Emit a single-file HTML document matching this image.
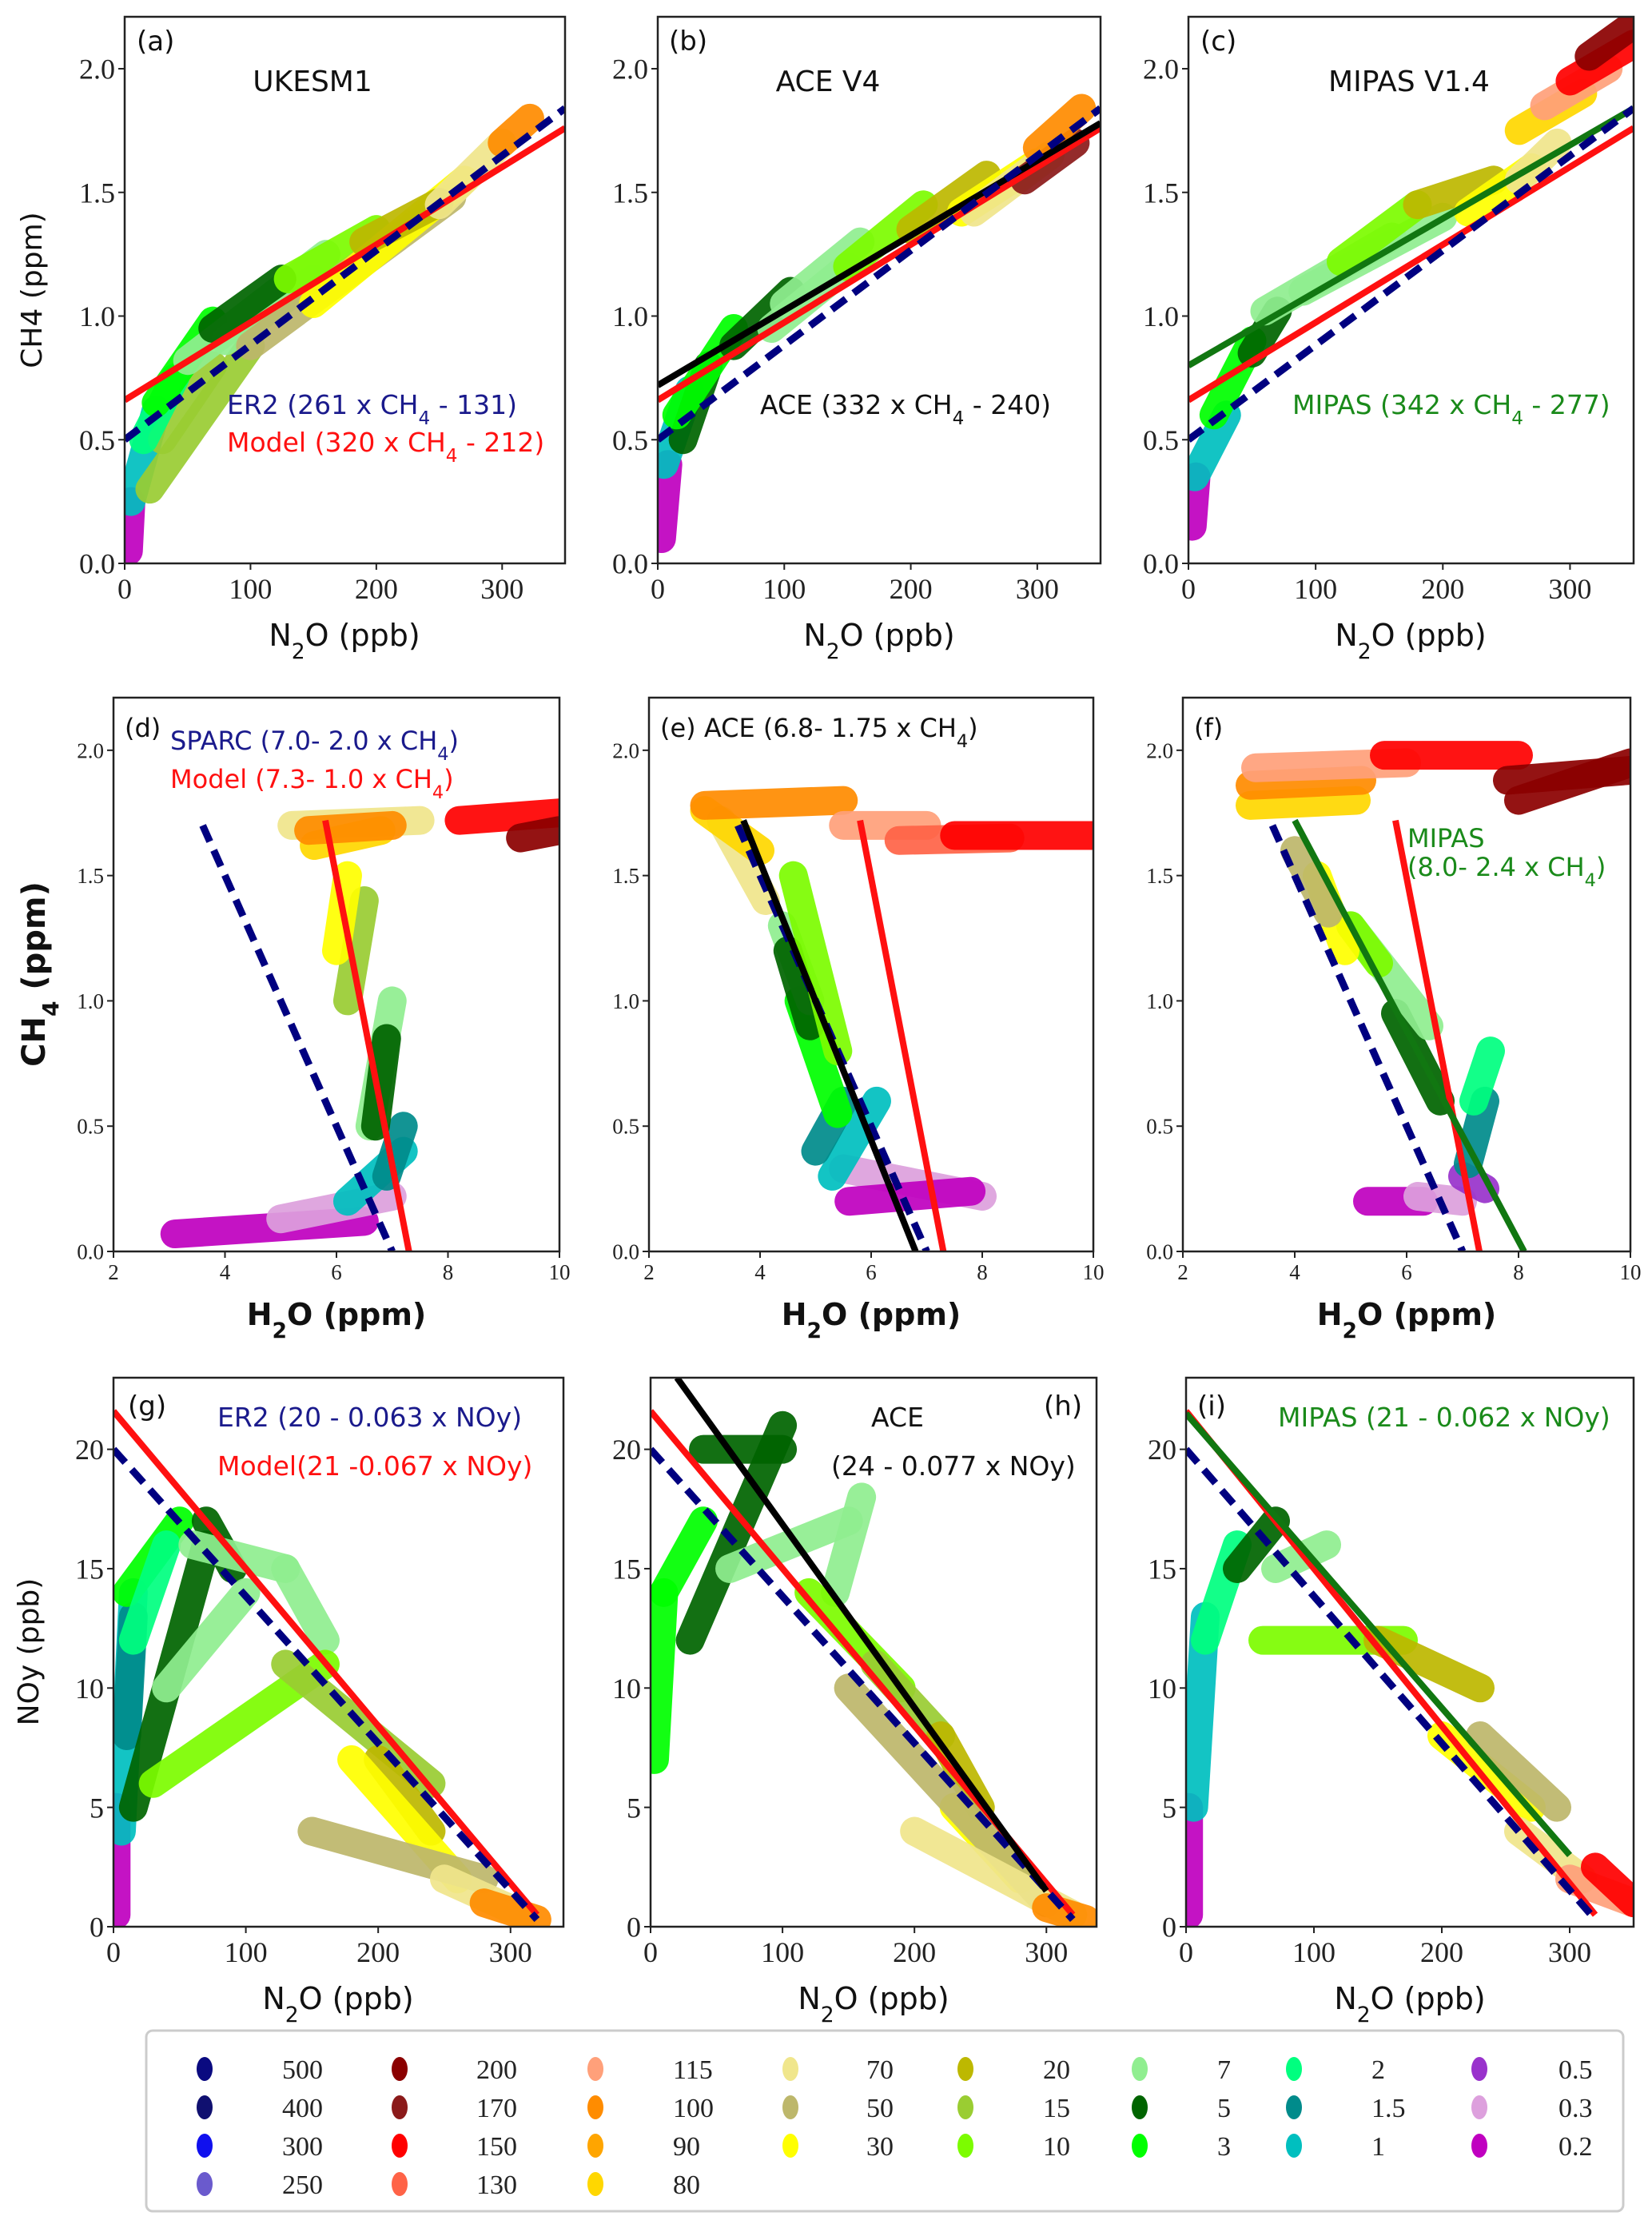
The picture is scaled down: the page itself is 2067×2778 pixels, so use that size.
<!DOCTYPE html>
<html><head><meta charset="utf-8"><style>
html,body{margin:0;padding:0;background:#fff}
svg{display:block}
.tk{font-family:"Liberation Serif",serif;fill:#222}
.lb{font-family:"DejaVu Sans","Liberation Sans",sans-serif}
</style></head><body>
<svg id="fig" xmlns="http://www.w3.org/2000/svg" width="2067" height="2778" viewBox="0 0 2067 2778"></svg>
<script>
// ---- data ----
const colorKeys = ["500","400","300","250","200","170","150","130","115","100","90","80","70","50","30","20","15","10","7","5","3","2","1.5","1","0.5","0.3","0.2"];
const colorVals = ["#0a0a80","#101070","#1010ee","#6a5acd","#8b0000","#8b1a1a","#ff0000","#ff6347","#ffa07a","#ff8c00","#ffa500","#ffd700","#f0e68c","#bdb76b","#ffff00","#bdb800","#9acd32","#7cfc00","#90ee90","#006400","#00ff00","#00ff7f","#008b8b","#00bfbf","#9932cc","#dda0dd","#c000c0"];

// cluster segments per panel: [colorKey, x1, y1, x2, y2]
const clustersA = [["0.2",3,0.05,5,0.25],["1",5,0.25,25,0.62],["15",20,0.3,100,0.88],["15",30,0.5,70,0.8],["2",15,0.5,40,0.75],["3",25,0.65,70,0.98],["7",50,0.82,160,1.25],["7",80,0.9,150,1.15],["5",70,0.95,125,1.15],["10",130,1.15,200,1.35],["50",100,0.88,260,1.48],["30",150,1.05,270,1.55],["20",190,1.3,250,1.46],["70",250,1.45,300,1.7],["100",300,1.7,322,1.8]];
const clustersB = [["0.2",3,0.1,8,0.4],["1",5,0.4,25,0.7],["5",20,0.5,40,0.8],["3",15,0.6,60,0.95],["5",60,0.88,105,1.1],["7",100,1.05,160,1.3],["7",90,0.95,150,1.2],["10",150,1.2,210,1.45],["20",200,1.35,260,1.57],["30",240,1.42,300,1.62],["70",250,1.42,310,1.65],["170",290,1.55,330,1.7],["100",300,1.68,335,1.84]];
const clustersC = [["0.2",3,0.15,6,0.35],["1",5,0.35,30,0.6],["3",20,0.6,50,0.9],["5",50,0.85,70,1.02],["7",60,1.02,160,1.32],["7",90,1.1,200,1.4],["10",120,1.22,180,1.45],["20",180,1.45,240,1.55],["30",220,1.42,270,1.6],["70",260,1.55,290,1.7],["80",260,1.75,310,1.9],["115",280,1.85,330,2.0],["150",300,1.95,350,2.1],["200",315,2.05,350,2.18]];
const clustersD = [["0.2",3.1,0.07,6.5,0.12],["0.3",5,0.13,7,0.22],["1",6.2,0.2,7.2,0.4],["1.5",6.9,0.3,7.2,0.5],["7",6.6,0.5,7.0,1.0],["5",6.7,0.5,6.9,0.85],["15",6.2,1.0,6.5,1.4],["30",6.0,1.2,6.2,1.5],["70",5.2,1.7,7.5,1.72],["80",5.6,1.62,6.8,1.68],["100",5.5,1.68,7.0,1.7],["150",8.2,1.72,10,1.75],["200",9.3,1.65,10,1.68]];
const clustersE = [["0.3",5.5,0.33,8,0.22],["0.2",5.6,0.2,7.8,0.24],["1",5.3,0.3,6.1,0.6],["1.5",5.0,0.4,5.5,0.6],["3",4.7,1.0,5.4,0.55],["7",4.4,1.3,4.9,1.0],["5",4.5,1.2,4.9,0.9],["10",4.6,1.5,5.4,0.8],["70",3.3,1.72,4.1,1.4],["80",3.0,1.76,4.0,1.6],["100",3.0,1.78,5.5,1.8],["115",5.5,1.7,7.0,1.7],["130",6.5,1.64,8.5,1.65],["150",7.5,1.66,10,1.66]];
const clustersF = [["0.2",5.3,0.2,6.3,0.2],["0.3",6.2,0.22,7.0,0.2],["0.5",7.0,0.3,7.4,0.25],["1.5",7.1,0.35,7.4,0.6],["2",7.2,0.6,7.5,0.8],["5",5.8,0.95,6.6,0.6],["7",5.0,1.3,6.4,0.9],["10",5.0,1.3,5.5,1.15],["30",4.4,1.5,4.9,1.2],["50",4.0,1.6,4.6,1.35],["80",3.2,1.78,5.1,1.8],["100",3.2,1.86,5.2,1.88],["115",3.3,1.93,6.0,1.95],["150",5.6,1.98,8.0,1.98],["200",7.8,1.88,10,1.92],["200",8,1.8,10,1.95]];
const clustersG = [["0.2",2,0.5,2,5],["1",6,4,15,14],["1.5",10,8,15,13],["3",10,14,50,17],["2",15,12,40,16],["5",15,5,70,16],["5",70,17,90,15],["7",40,10,100,14],["7",60,16,130,15],["7",130,15,160,12],["10",30,6,160,11],["15",130,11,240,6],["20",200,7,240,4],["30",180,7,260,2],["50",150,4,280,2],["70",250,2,310,0.5],["100",280,1,320,0.3]];
const clustersH = [["3",3,7,10,14],["3",10,14,40,17],["5",30,12,100,21],["5",40,20,100,20],["7",60,15,150,17],["7",140,14,160,18],["10",120,14,190,10],["15",170,11,220,8],["20",220,8,250,5],["30",230,5,280,2],["50",150,10,300,1],["70",200,4,320,0.5],["100",300,0.8,330,0.3]];
const clustersI = [["0.2",2,0.5,2,5],["1",6,5,15,13],["2",15,12,40,16],["5",40,15,70,17],["7",70,15,110,16],["10",60,12,170,12],["20",150,12,230,10],["30",200,8,270,5],["50",230,8,290,5],["70",260,4,310,2],["115",300,2,350,1],["150",320,2.5,350,1]];

// fit lines: [x1,y1,x2,y2,color,dashed]
const linesA = [[0,0.66,350,1.76,"#ff1010",0],[0,0.5,350,1.84,"#000080",1]];
const linesB = [[0,0.66,350,1.76,"#ff1010",0],[0,0.72,350,1.78,"#000000",0],[0,0.5,350,1.84,"#000080",1]];
const linesC = [[0,0.66,350,1.76,"#ff1010",0],[0,0.8,350,1.84,"#117711",0],[0,0.5,350,1.84,"#000080",1]];
const linesD = [[5.8,1.72,7.3,0,"#ff1010",0],[3.6,1.7,7.0,0,"#000080",1]];
const linesE = [[5.8,1.72,7.3,0,"#ff1010",0],[3.6,1.7,7.0,0,"#000080",1],[3.7,1.72,6.8,0,"#000000",0]];
const linesF = [[5.8,1.72,7.3,0,"#ff1010",0],[3.6,1.7,7.0,0,"#000080",1],[4.0,1.72,8.1,0,"#117711",0]];
const linesG = [[0,21.6,320,0.5,"#ff1010",0],[0,20,320,0.3,"#000080",1]];
const linesH = [[0,21.6,320,0.5,"#ff1010",0],[0,20,320,0.3,"#000080",1],[20,23,300,1.5,"#000000",0]];
const linesI = [[0,21.6,320,0.5,"#ff1010",0],[0,20,320,0.3,"#000080",1],[0,21.5,300,3,"#117711",0]];

const xTicksN2O = [0,100,200,300];
const xTicksH2O = [2,4,6,8,10];
const yTicksCH4 = ["0.0","0.5","1.0","1.5","2.0"];
const yTicksNOy = [0,5,10,15,20];

const legendCols = [["500","400","300","250"],["200","170","150","130"],["115","100","90","80"],["70","50","30"],["20","15","10"],["7","5","3"],["2","1.5","1"],["0.5","0.3","0.2"]];

// ---- drawing ----
const NS="http://www.w3.org/2000/svg";
const svg=document.getElementById('fig');
function mk(tag,attrs,parent){const e=document.createElementNS(NS,tag);for(const k in attrs)e.setAttribute(k,attrs[k]);(parent||svg).appendChild(e);return e;}
function col(k){return colorVals[colorKeys.indexOf(k)];}

const panels=[
 {id:"a",L:156,R:707,T:21,B:705,xr:[0,350],yr:[0,2.21],cl:clustersA,ln:linesA,xt:xTicksN2O,yt:yTicksCH4,fs:36},
 {id:"b",L:823,R:1377,T:21,B:705,xr:[0,350],yr:[0,2.21],cl:clustersB,ln:linesB,xt:xTicksN2O,yt:yTicksCH4,fs:36},
 {id:"c",L:1487,R:2044,T:21,B:705,xr:[0,350],yr:[0,2.21],cl:clustersC,ln:linesC,xt:xTicksN2O,yt:yTicksCH4,fs:36},
 {id:"d",L:142,R:700,T:873,B:1566,xr:[2,10],yr:[0,2.21],cl:clustersD,ln:linesD,xt:xTicksH2O,yt:yTicksCH4,fs:27},
 {id:"e",L:812,R:1368,T:873,B:1566,xr:[2,10],yr:[0,2.21],cl:clustersE,ln:linesE,xt:xTicksH2O,yt:yTicksCH4,fs:27},
 {id:"f",L:1480,R:2040,T:873,B:1566,xr:[2,10],yr:[0,2.21],cl:clustersF,ln:linesF,xt:xTicksH2O,yt:yTicksCH4,fs:27},
 {id:"g",L:142,R:705,T:1724,B:2411,xr:[0,340],yr:[0,23],cl:clustersG,ln:linesG,xt:xTicksN2O,yt:yTicksNOy,fs:36},
 {id:"h",L:814,R:1372,T:1724,B:2411,xr:[0,338],yr:[0,23],cl:clustersH,ln:linesH,xt:xTicksN2O,yt:yTicksNOy,fs:36},
 {id:"i",L:1484,R:2044,T:1724,B:2411,xr:[0,350],yr:[0,23],cl:clustersI,ln:linesI,xt:xTicksN2O,yt:yTicksNOy,fs:36}
];

panels.forEach(p=>{
  const g=mk('g',{});
  
  
  const sx=v=>p.L+(v-p.xr[0])/(p.xr[1]-p.xr[0])*(p.R-p.L);
  const sy=v=>p.B-(v-p.yr[0])/(p.yr[1]-p.yr[0])*(p.B-p.T);
  const cid='clip'+p.id;
  const cp=mk('clipPath',{id:cid},g);
  mk('rect',{x:p.L,y:p.T,width:p.R-p.L,height:p.B-p.T},cp);
  const pg=mk('g',{'clip-path':'url(#'+cid+')'},g);
  p.cl.forEach(c=>{
    const s=mk('line',{x1:sx(c[1]),y1:sy(c[2]),x2:sx(c[3]),y2:sy(c[4]),stroke:col(c[0]),'stroke-width':36,'stroke-linecap':'round',opacity:0.92},pg);
    
    
  });
  p.ln.forEach(l=>{
    const a={x1:sx(l[0]),y1:sy(l[1]),x2:sx(l[2]),y2:sy(l[3]),stroke:l[4],'stroke-width':l[5]?9:8};
    if(l[5])a['stroke-dasharray']='22 12';
    const e=mk('line',a,pg);
    
    
  });
  const fr=mk('rect',{x:p.L,y:p.T,width:p.R-p.L,height:p.B-p.T,fill:'none',stroke:'#222','stroke-width':2.5},g);
  
  
  p.xt.forEach(t=>{
    const x=sx(t);
    mk('line',{x1:x,y1:p.B,x2:x,y2:p.B+8,stroke:'#222','stroke-width':2},g);
    const tx=mk('text',{x:x,y:p.B+p.fs+8,'text-anchor':'middle','font-size':p.fs,class:'tk'},g);
    tx.textContent=t;
    
    
  });
  p.yt.forEach(t=>{
    const y=sy(parseFloat(t));
    mk('line',{x1:p.L-8,y1:y,x2:p.L,y2:y,stroke:'#222','stroke-width':2},g);
    const tx=mk('text',{x:p.L-12,y:y+p.fs*0.35,'text-anchor':'end','font-size':p.fs,class:'tk'},g);
    tx.textContent=t;
    
    
  });
});
</script>
<script>
// static text + legend
(function(){
const NS="http://www.w3.org/2000/svg";const svg=document.getElementById('fig');
function T(x,y,txt,fs,fill,name,anchor,weight,rot){const e=document.createElementNS(NS,'text');e.setAttribute('x',x);e.setAttribute('y',y);e.setAttribute('font-size',fs);e.setAttribute('style','fill:'+fill);e.setAttribute('class','lb');if(anchor)e.setAttribute('text-anchor',anchor);if(weight)e.setAttribute('font-weight',weight);if(rot)e.setAttribute('transform','rotate(-90 '+x+' '+y+')');e.innerHTML=txt;svg.appendChild(e);return e;}
const sub=s=>'<tspan baseline-shift="sub" font-size="70%">'+s+'</tspan>';
T(171,63,'(a)',34,'#111','panel-letter-a');
T(391,114,'UKESM1',36,'#111','panel-title-a','middle');
T(284,518,'ER2 (261 x CH'+sub('4')+' - 131)',33,'#1a1a8c','er2-fit-label');
T(284,565,'Model (320 x CH'+sub('4')+' - 212)',33,'#ff1010','model-fit-label');
T(837,63,'(b)',34,'#111','panel-letter-b');
T(1036,114,'ACE V4',36,'#111','panel-title-b','middle');
T(951,518,'ACE (332 x CH'+sub('4')+' - 240)',33,'#111','ace-fit-label');
T(1502,63,'(c)',34,'#111','panel-letter-c');
T(1763,114,'MIPAS V1.4',36,'#111','panel-title-c','middle');
T(1617,518,'MIPAS (342 x CH'+sub('4')+' - 277)',33,'#1a8a1a','mipas-fit-label');
T(156,922,'(d)',32,'#111','panel-letter-d');
T(213,938,'SPARC (7.0- 2.0 x CH'+sub('4')+')',32,'#1a1a8c','sparc-fit-label');
T(213,986,'Model (7.3- 1.0 x CH'+sub('4')+')',32,'#ff1010','model-fit-label-d');
T(826,922,'(e) ACE (6.8- 1.75 x CH'+sub('4')+')',32,'#111','panel-title-e');
T(1494,922,'(f)',32,'#111','panel-letter-f');
T(1761,1060,'MIPAS',32,'#1a8a1a','mipas-label-f');
T(1761,1096,'(8.0- 2.4 x CH'+sub('4')+')',32,'#1a8a1a','mipas-fit-label-f');
T(160,1771,'(g)',34,'#111','panel-letter-g');
T(272,1785,'ER2 (20 - 0.063 x NOy)',33,'#1a1a8c','er2-noy-label');
T(272,1846,'Model(21 -0.067 x NOy)',33,'#ff1010','model-noy-label');
T(1123,1785,'ACE',33,'#111','ace-noy-label','middle');
T(1306,1771,'(h)',34,'#111','panel-letter-h');
T(1040,1846,'(24 - 0.077 x NOy)',33,'#111','ace-noy-fit');
T(1498,1771,'(i)',34,'#111','panel-letter-i');
T(1599,1785,'MIPAS (21 - 0.062 x NOy)',33,'#1a8a1a','mipas-noy-label');
// axis titles
[[431,808],[1100,808],[1765,808]].forEach(a=>T(a[0],a[1],'N'+sub('2')+'O (ppb)',38,'#111','x-axis-title','middle'));
[[421,1658],[1090,1658],[1760,1658]].forEach(a=>T(a[0],a[1],'H'+sub('2')+'O (ppm)',38,'#111','x-axis-title-h2o','middle','bold'));
[[423,2514],[1093,2514],[1764,2514]].forEach(a=>T(a[0],a[1],'N'+sub('2')+'O (ppb)',38,'#111','x-axis-title','middle'));
T(52,363,'CH4 (ppm)',36,'#111','y-axis-title','middle',null,true);
T(56,1219,'CH'+sub('4')+' (ppm)',40,'#111','y-axis-title-d','middle','bold',true);
T(48,2067,'NOy (ppb)',36,'#111','y-axis-title-noy','middle',null,true);
// legend
const lg=document.createElementNS(NS,'rect');
lg.setAttribute('x',183);lg.setAttribute('y',2541);lg.setAttribute('width',1848);lg.setAttribute('height',226);lg.setAttribute('rx',8);lg.setAttribute('fill','#fff');lg.setAttribute('stroke','#ccc');lg.setAttribute('stroke-width',3);


svg.appendChild(lg);
const mx=[256,500,745,989,1208,1426,1619,1851];
const tx=[353,596,842,1084,1305,1523,1716,1950];
const ry=[2589,2637,2685,2733];
legendCols.forEach((c,i)=>c.forEach((k,j)=>{
  const e=document.createElementNS(NS,'ellipse');
  e.setAttribute('cx',mx[i]);e.setAttribute('cy',ry[j]);e.setAttribute('rx',10);e.setAttribute('ry',15);
  e.setAttribute('fill',colorVals[colorKeys.indexOf(k)]);
  
  
  svg.appendChild(e);
  const t=document.createElementNS(NS,'text');
  t.setAttribute('x',tx[i]);t.setAttribute('y',ry[j]+12);t.setAttribute('font-size',34);t.setAttribute('class','tk');
  t.textContent=k;
  
  
  svg.appendChild(t);
}));
})();
</script>
</body></html>
